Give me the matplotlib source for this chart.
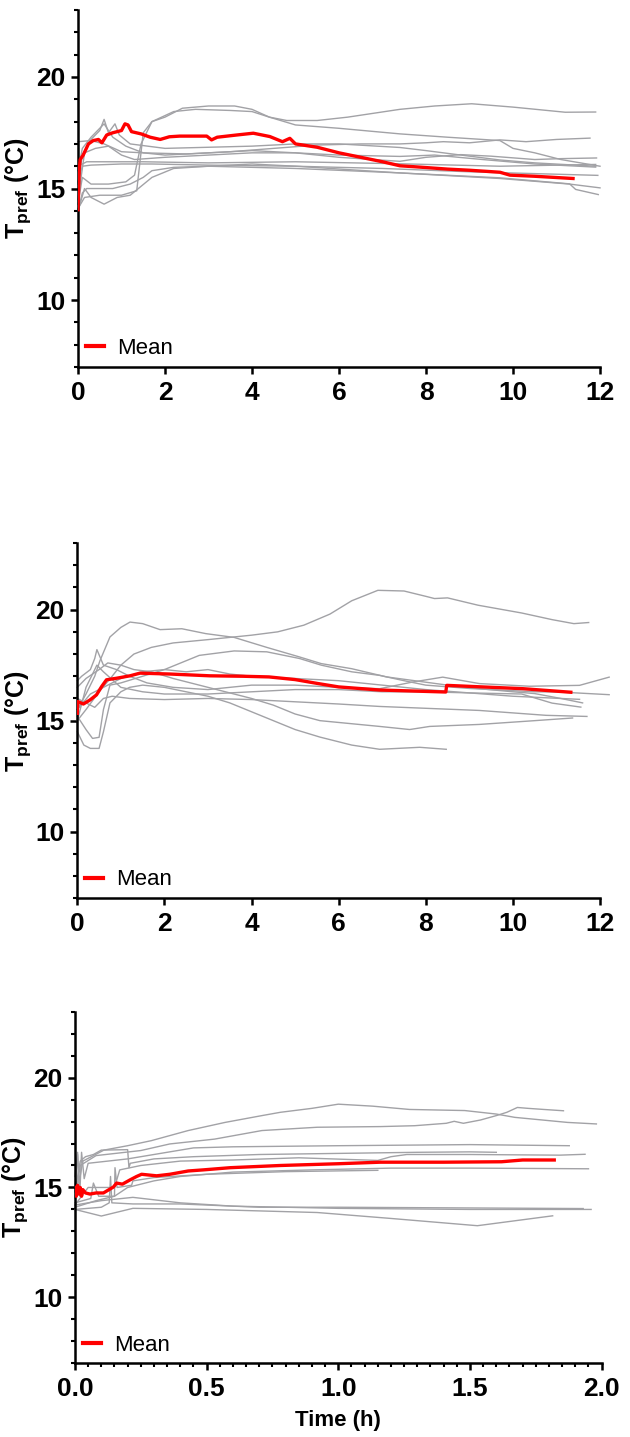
import matplotlib
matplotlib.use("Agg")
import matplotlib.pyplot as plt
from matplotlib.ticker import MultipleLocator, FormatStrFormatter

plt.rcParams['font.family'] = ['Liberation Sans', 'DejaVu Sans']
plt.rcParams['mathtext.fontset'] = 'custom'
plt.rcParams['mathtext.rm'] = 'Liberation Sans:bold'
plt.rcParams['mathtext.it'] = 'Liberation Sans:bold'
plt.rcParams['mathtext.bf'] = 'Liberation Sans:bold'

GRAY = '#a2a2a6'
RED = '#ff0000'

# ---- panel 1: individual traces (time h, Tpref degC) ----
p1_traces = [
    [(0, 14.1), (0.15, 14.6), (0.5, 14.7), (1.0, 14.7), (1.35, 14.9), (1.5, 17.5), (1.7, 18.0), (2.0, 18.2),
     (2.4, 18.6), (3.0, 18.7), (3.6, 18.7), (4.0, 18.55), (4.4, 18.2), (4.8, 18.05), (5.5, 18.05), (6.2, 18.2),
     (7.4, 18.55), (8.2, 18.7), (9.05, 18.8), (10.0, 18.65), (11.2, 18.42), (11.9, 18.43)],
    [(0, 14.3), (0.1, 15.5), (0.3, 15.2), (0.7, 15.2), (1.1, 15.3), (1.3, 15.6), (1.45, 17.0), (1.7, 18.0),
     (2.2, 18.45), (2.7, 18.55), (3.5, 18.5), (4.0, 18.45), (4.4, 18.2), (5.0, 17.85), (6.0, 17.7), (7.4, 17.45),
     (8.5, 17.3), (9.7, 17.15), (10.0, 16.8), (10.5, 16.6), (11.1, 16.3), (12.0, 16.0)],
    [(0, 17.1), (0.3, 17.15), (0.6, 17.0), (1.0, 16.65), (1.5, 16.6), (2.5, 16.55), (3.5, 16.65), (4.5, 16.8),
     (5.5, 16.95), (6.5, 17.0), (7.4, 17.0), (8.0, 17.05), (8.4, 17.1), (9.0, 17.05), (9.7, 17.18), (10.3, 17.1),
     (11.0, 17.2), (11.77, 17.26)],
    [(0, 15.2), (0.1, 16.5), (0.3, 17.2), (0.5, 17.6), (0.6, 18.1), (0.7, 17.5), (0.85, 17.9), (0.95, 17.4),
     (1.2, 17.0), (1.6, 16.9), (2.0, 16.8), (3.0, 16.85), (4.0, 16.9), (5.0, 17.0), (6.0, 17.0), (7.4, 16.84),
     (8.0, 16.7), (8.8, 16.5), (9.7, 16.28), (10.5, 16.15), (11.9, 16.0)],
    [(0, 14.5), (0.15, 16.6), (0.4, 16.8), (0.7, 16.9), (1.0, 16.5), (1.3, 16.3), (2.0, 16.4), (3.0, 16.5),
     (4.0, 16.6), (5.0, 16.6), (6.0, 16.4), (7.4, 16.22), (8.0, 16.4), (8.8, 16.52), (9.5, 16.45), (10.5, 16.3),
     (11.1, 16.34), (11.92, 16.37)],
    [(0, 15.8), (0.1, 16.8), (0.3, 17.3), (0.6, 17.9), (0.8, 17.3), (1.1, 16.9), (1.5, 16.6), (2.0, 16.5),
     (3.0, 16.6), (4.0, 16.7), (5.0, 16.6), (6.0, 16.5), (7.4, 16.44), (8.2, 16.5), (9.3, 16.3), (10.5, 16.1),
     (11.9, 15.96)],
    [(0, 16.0), (0.2, 16.2), (0.6, 16.2), (1.5, 16.2), (3.0, 16.15), (5.0, 16.2), (7.4, 16.11), (9.7, 16.0),
     (11.9, 16.08)],
    [(0, 15.3), (0.1, 16.0), (0.3, 16.05), (1.0, 16.1), (1.7, 16.1), (3.0, 16.05), (5.0, 16.0), (7.0, 15.9),
     (9.0, 15.75), (11.95, 15.59)],
    [(0, 14.0), (0.1, 14.8), (0.2, 15.0), (0.8, 15.0), (1.2, 15.2), (1.5, 15.5), (1.7, 15.8), (2.2, 15.95),
     (3.0, 16.0), (5.0, 15.9), (7.4, 15.7), (9.7, 15.45), (11.3, 15.2), (12.0, 15.03)],
    [(0, 14.0), (0.15, 15.0), (0.3, 14.6), (0.6, 14.3), (0.9, 14.6), (1.2, 14.7), (1.7, 15.5), (2.2, 15.9),
     (3.0, 16.0), (4.0, 16.1), (5.0, 16.0), (7.4, 15.7), (9.7, 15.48), (11.3, 15.21), (11.44, 14.96),
     (11.96, 14.73)],
]
p1_mean = [(0, 14.05), (0.03, 15.9), (0.05, 16.3), (0.12, 16.5), (0.24, 17.0), (0.35, 17.15), (0.47, 17.2),
           (0.55, 17.05), (0.66, 17.4), (0.8, 17.5), (1.0, 17.6), (1.08, 17.9), (1.15, 17.85), (1.23, 17.55),
           (1.45, 17.45), (1.66, 17.3), (1.89, 17.2), (2.1, 17.32), (2.34, 17.35), (2.96, 17.35), (3.07, 17.18),
           (3.2, 17.3), (3.65, 17.4), (4.03, 17.48), (4.41, 17.33), (4.7, 17.1), (4.87, 17.25), (5.0, 17.0),
           (5.5, 16.85), (6.0, 16.6), (6.5, 16.4), (7.0, 16.2), (7.4, 16.02), (7.86, 15.96), (8.5, 15.87),
           (9.0, 15.82), (9.7, 15.73), (9.93, 15.6), (10.5, 15.55), (11.38, 15.45)]

# ---- panel 2 ----
p2_traces = [
    [(0, 15.0), (0.2, 15.5), (0.5, 16.3), (0.8, 17.0), (1.0, 17.5), (1.3, 18.0), (1.7, 18.3), (2.2, 18.5),
     (3.0, 18.65), (4.0, 18.85), (4.6, 19.0), (5.2, 19.3), (5.8, 19.8), (6.3, 20.4), (6.9, 20.87), (7.5, 20.84),
     (8.0, 20.6), (8.2, 20.5), (8.5, 20.53), (9.2, 20.2), (10.2, 19.85), (10.9, 19.55), (11.4, 19.37),
     (11.74, 19.42)],
    [(0, 15.5), (0.2, 16.2), (0.4, 17.0), (0.52, 17.7), (0.75, 18.77), (1.0, 19.2), (1.21, 19.44), (1.5, 19.37),
     (1.9, 19.1), (2.4, 19.14), (2.95, 18.92), (3.6, 18.75), (4.35, 18.3), (5.1, 17.87), (5.6, 17.57),
     (6.3, 17.34), (7.1, 16.97), (7.97, 16.74), (8.8, 16.52), (10.0, 16.3), (10.5, 16.22), (11.1, 16.0),
     (11.6, 15.8)],
    [(0, 15.2), (0.2, 14.6), (0.35, 14.2), (0.5, 14.25), (0.6, 15.5), (0.75, 16.6), (1.0, 16.7), (1.5, 17.0),
     (2.0, 17.3), (2.8, 17.94), (3.6, 18.14), (4.35, 18.1), (5.1, 17.8), (5.6, 17.5), (6.3, 17.2), (6.94, 17.04),
     (7.5, 16.8), (8.0, 16.6), (9.0, 16.45), (10.5, 16.3), (11.07, 16.29), (12.21, 16.17)],
    [(0, 16.8), (0.1, 17.0), (0.3, 17.3), (0.4, 17.8), (0.45, 18.2), (0.6, 17.5), (0.9, 17.3), (1.2, 17.0),
     (1.6, 16.7), (2.2, 16.5), (3.0, 16.4), (4.0, 16.6), (5.0, 16.6), (6.0, 16.5), (6.94, 16.44), (7.7, 16.74),
     (8.39, 16.96), (9.23, 16.67), (10.38, 16.55), (11.53, 16.59), (12.21, 16.96)],
    [(0, 16.5), (0.2, 16.9), (0.5, 17.3), (0.7, 17.6), (1.0, 17.5), (1.3, 17.3), (1.7, 17.2), (2.2, 16.9),
     (3.0, 16.5), (4.0, 16.0), (4.5, 15.7), (5.0, 15.3), (5.57, 15.0), (6.94, 14.74), (7.63, 14.6),
     (8.09, 14.74), (9.23, 14.83), (10.5, 15.0), (11.37, 15.12)],
    [(0, 14.5), (0.15, 13.9), (0.3, 13.75), (0.5, 13.75), (0.6, 14.5), (0.75, 15.8), (1.0, 16.3), (1.2, 16.5),
     (1.5, 16.6), (2.0, 16.5), (2.5, 16.3), (3.0, 16.1), (3.5, 15.8), (4.0, 15.4), (4.5, 15.0), (5.0, 14.6),
     (5.57, 14.26), (6.3, 13.9), (6.94, 13.71), (7.86, 13.8), (8.47, 13.71)],
    [(0, 16.0), (0.2, 15.8), (0.4, 15.6), (0.6, 16.0), (0.8, 16.1), (1.2, 16.0), (2.0, 15.95), (3.0, 16.0),
     (4.0, 15.95), (5.0, 15.85), (6.0, 15.75), (6.94, 15.64), (9.23, 15.46), (10.76, 15.24), (11.7, 15.19)],
    [(0, 15.0), (0.2, 16.5), (0.45, 17.5), (0.6, 17.2), (1.0, 16.5), (1.5, 16.3), (2.0, 16.2), (3.0, 16.2),
     (4.0, 16.3), (5.0, 16.4), (6.0, 16.4), (7.0, 16.3), (8.0, 16.3), (9.0, 16.25), (10.2, 16.2), (10.9, 15.79),
     (11.56, 15.61)],
    [(0, 15.5), (0.3, 16.2), (0.6, 16.5), (1.0, 16.9), (1.5, 17.2), (2.0, 17.3), (2.5, 17.2), (3.0, 17.3),
     (3.5, 17.1), (4.0, 17.0), (5.0, 16.9), (6.0, 16.8), (7.0, 16.6), (8.0, 16.4), (9.0, 16.25), (10.0, 16.1),
     (11.53, 15.96)],
]
p2_mean = [(0, 15.33), (0.01, 15.86), (0.14, 15.75), (0.29, 15.93), (0.44, 16.16), (0.56, 16.54), (0.67, 16.84),
           (0.9, 16.91), (1.21, 17.02), (1.44, 17.14), (2.13, 17.1), (3.04, 17.02), (3.8, 17.0), (4.4, 16.97),
           (5.0, 16.85), (5.5, 16.68), (6.0, 16.52), (6.94, 16.38), (8.46, 16.29), (8.48, 16.59), (10.23, 16.44),
           (11.33, 16.28)]

# ---- panel 3 ----
p3_traces = [
    [(0, 15.5), (0.01, 16.6), (0.015, 15.2), (0.03, 16.2), (0.11, 16.7), (0.2, 16.9), (0.29, 17.13),
     (0.43, 17.59), (0.57, 17.96), (0.71, 18.27), (0.78, 18.42), (0.9, 18.6), (1.0, 18.79), (1.13, 18.7),
     (1.27, 18.55), (1.48, 18.5), (1.6, 18.34), (1.67, 18.19), (1.87, 17.96), (1.98, 17.89)],
    [(0, 14.5), (0.02, 16.0), (0.08, 16.45), (0.25, 16.68), (0.36, 16.98), (0.53, 17.2), (0.71, 17.59),
     (0.92, 17.74), (1.16, 17.77), (1.29, 17.81), (1.41, 17.92), (1.44, 18.01), (1.475, 17.92), (1.54, 18.07),
     (1.6, 18.27), (1.64, 18.42), (1.68, 18.64), (1.72, 18.6), (1.78, 18.55), (1.855, 18.49)],
    [(0, 15.0), (0.01, 16.5), (0.018, 14.6), (0.025, 16.6), (0.035, 15.4), (0.05, 16.1), (0.2, 16.3),
     (0.35, 16.6), (0.45, 16.8), (0.6, 16.85), (1.0, 16.9), (1.5, 16.95), (1.877, 16.9)],
    [(0, 14.2), (0.05, 15.0), (0.15, 15.0), (0.17, 15.8), (0.25, 16.0), (0.4, 16.2), (0.6, 16.25),
     (0.85, 16.35), (1.15, 16.23), (1.2, 16.4), (1.26, 16.5), (1.5, 16.5), (1.84, 16.47), (1.937, 16.51)],
    [(0, 14.1), (0.08, 14.4), (0.15, 14.6), (0.2, 15.0), (0.3, 15.3), (0.4, 15.5), (0.6, 15.7), (0.9, 15.8),
     (1.2, 15.88), (1.5, 15.88), (1.95, 15.85)],
    [(0, 14.3), (0.06, 14.5), (0.07, 15.2), (0.09, 14.6), (0.15, 14.6), (0.152, 15.9), (0.16, 15.0),
     (0.215, 15.1), (0.22, 15.3), (0.3, 15.45), (0.5, 15.6), (0.8, 15.72), (1.15, 15.78)],
    [(0, 14.0), (0.05, 13.85), (0.1, 13.7), (0.22, 14.05), (0.5, 14.0), (0.92, 13.86), (1.2, 13.59),
     (1.528, 13.26), (1.814, 13.71)],
    [(0, 14.2), (0.1, 14.4), (0.22, 14.55), (0.4, 14.3), (0.6, 14.15), (1.0, 14.05), (1.5, 14.0), (1.96, 14.0)],
    [(0, 14.0), (0.1, 14.1), (0.13, 14.3), (0.135, 15.5), (0.14, 14.3), (0.22, 14.25), (0.4, 14.25),
     (0.7, 14.1), (1.0, 14.1), (1.93, 14.04)],
    [(0, 14.8), (0.02, 16.2), (0.04, 16.4), (0.07, 16.5), (0.1, 16.7), (0.2, 16.72), (0.205, 15.9),
     (0.21, 16.1), (0.3, 16.3), (0.45, 16.4), (0.7, 16.5), (1.0, 16.55), (1.3, 16.6), (1.5, 16.62),
     (1.6, 16.6)],
]
p3_mean = [(0, 15.0), (0.005, 14.6), (0.01, 15.1), (0.015, 14.7), (0.02, 15.0), (0.025, 14.6), (0.03, 14.9),
           (0.04, 14.75), (0.057, 14.7), (0.08, 14.75), (0.108, 14.75), (0.146, 15.02), (0.158, 15.2),
           (0.18, 15.15), (0.21, 15.35), (0.234, 15.5), (0.253, 15.6), (0.31, 15.53), (0.36, 15.6), (0.43, 15.75),
           (0.487, 15.8), (0.59, 15.9), (0.78, 16.0), (1.0, 16.08), (1.16, 16.15), (1.4, 16.15), (1.62, 16.17),
           (1.7, 16.25), (1.82, 16.25)]

panels = [
    (p1_traces, p1_mean, 12, 2, None, '%d'),
    (p2_traces, p2_mean, 12, 2, None, '%d'),
    (p3_traces, p3_mean, 2.0, 0.5, 0.05, '%.1f'),
]
boxes = [
    [0.1238, 0.7446, 0.8286, 0.2484],
    [0.1227, 0.3749, 0.8297, 0.2472],
    [0.1190, 0.0513, 0.8360, 0.2447],
]

fig = plt.figure(figsize=(6.3, 14.37), dpi=100)

for (traces, mean, xmax, xmaj, xmin, fmt), box in zip(panels, boxes):
    ax = fig.add_axes(box)
    for tr in traces:
        ax.plot([p[0] for p in tr], [p[1] for p in tr], color=GRAY, lw=1.0, clip_on=False, zorder=2)
    ax.plot([p[0] for p in mean], [p[1] for p in mean], color=RED, lw=2.4, label='Mean',
            solid_joinstyle='round', zorder=3)

    ax.set_xlim(0, xmax)
    ax.set_ylim(7, 23)
    ax.xaxis.set_major_locator(MultipleLocator(xmaj))
    ax.xaxis.set_major_formatter(FormatStrFormatter(fmt))
    if xmin:
        ax.xaxis.set_minor_locator(MultipleLocator(xmin))
    ax.yaxis.set_major_locator(MultipleLocator(5))
    ax.yaxis.set_minor_locator(MultipleLocator(1))

    for s in ['top', 'right']:
        ax.spines[s].set_visible(False)
    for s in ['left', 'bottom']:
        ax.spines[s].set_linewidth(1.8)

    ax.tick_params(which='major', direction='out', length=5, width=1.8, labelsize=19)
    ax.tick_params(axis='x', which='major', pad=5)
    ax.tick_params(axis='y', which='major', pad=4)
    ax.tick_params(which='minor', direction='out', length=3, width=1.5)
    for lab in ax.get_xticklabels() + ax.get_yticklabels():
        lab.set_fontweight('bold')

    ax.set_ylabel(r'$\mathrm{T_{pref}}$ (°C)', fontsize=18, fontweight='bold', labelpad=2)

    leg = ax.legend(loc='lower left', frameon=False, fontsize=16, handlelength=0.8,
                    handletextpad=0.6, borderaxespad=0.1, borderpad=0.25)
    for h in leg.get_lines():
        h.set_linewidth(3.0)

ax.set_xlabel('Time (h)', fontsize=16, fontweight='bold', labelpad=6)

fig.savefig('out.png', dpi=100)
